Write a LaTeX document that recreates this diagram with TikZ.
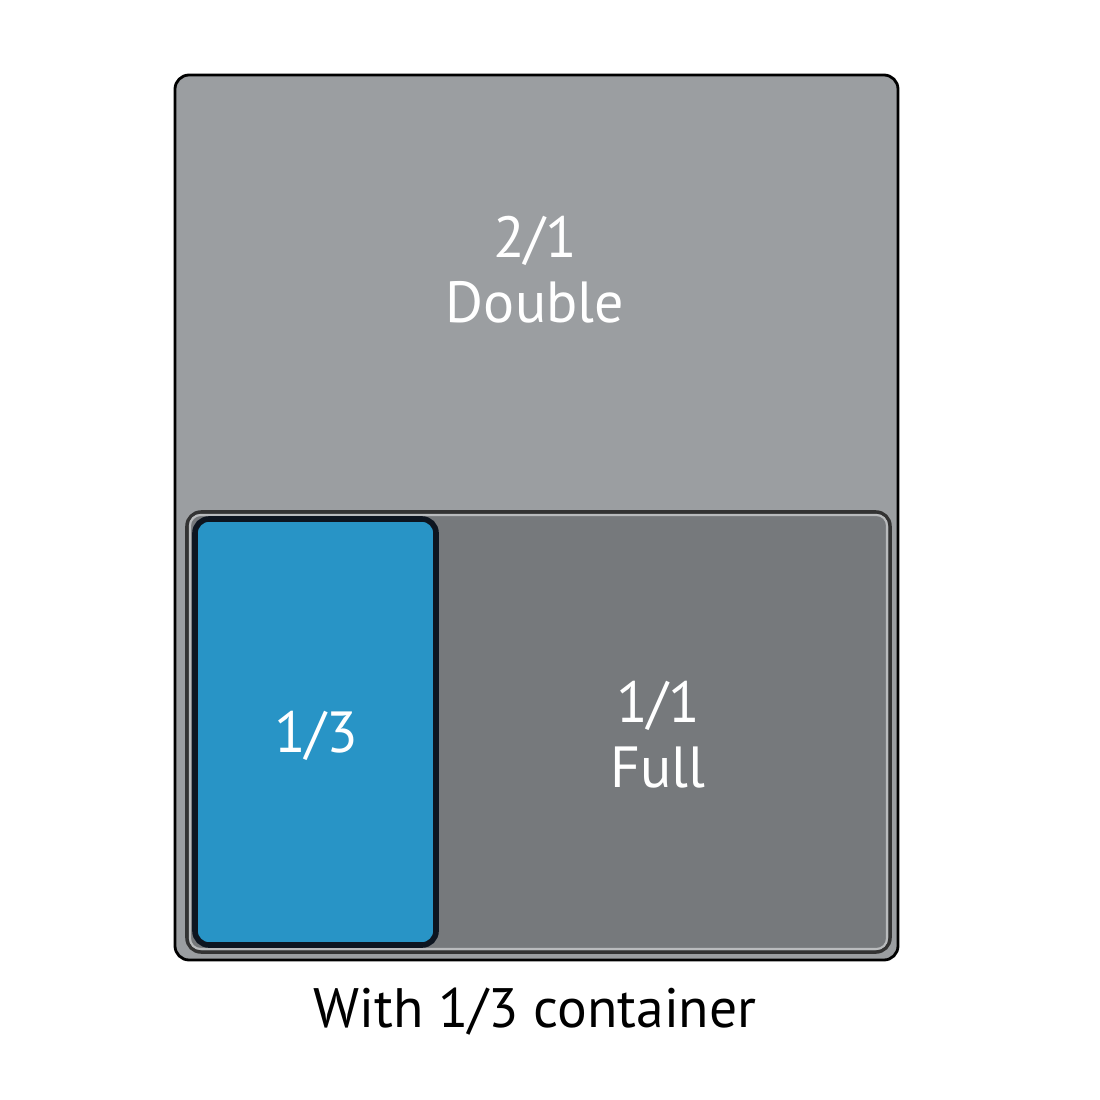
\documentclass[tikz,border=0pt]{standalone}
\usepackage{fontspec}
\setmainfont{PT Sans}
\usepackage{tikz}
\usetikzlibrary{positioning}

\definecolor{panlight}{HTML}{9B9EA1}
\definecolor{pandark}{HTML}{76797C}
\definecolor{panblue}{HTML}{2894C6}
\definecolor{panedge}{HTML}{0D1520}

\tikzset{
  pan/.style={draw=black, line width=0.8pt, rounded corners=4pt},
  pantext/.style={text=white, font=\fontsize{16.5}{19.5}\selectfont, align=center},
}

\begin{document}
\begin{tikzpicture}[x=0.01cm,y=-0.01cm]
    \useasboundingbox (0,0) rectangle (1100,1100);
    % double pan
    \draw[pan, fill=panlight] (175,75) rectangle (898,960);
    % full pan
    \draw[pan, draw=black!80, fill=pandark, line width=1pt] (187,512) rectangle (890,952);
    \draw[draw=panlight!70, line width=0.6pt, rounded corners=3pt] (190,515) rectangle (887,949);
    % third pan
    \draw[pan, draw=panedge, fill=panblue, line width=1.6pt] (195,519) rectangle (436,945);
    \node[pantext] (double) at (535,270) {2/1\\[-1pt]Double};
    \node[pantext] (full) at (658,735) {1/1\\[-1pt]Full};
    \node[pantext] (third) at (316,736) {1/3};
    \node[font=\fontsize{15.8}{19}\selectfont] (caption) at (535,1012) {With 1/3 container};
\end{tikzpicture}
\end{document}
